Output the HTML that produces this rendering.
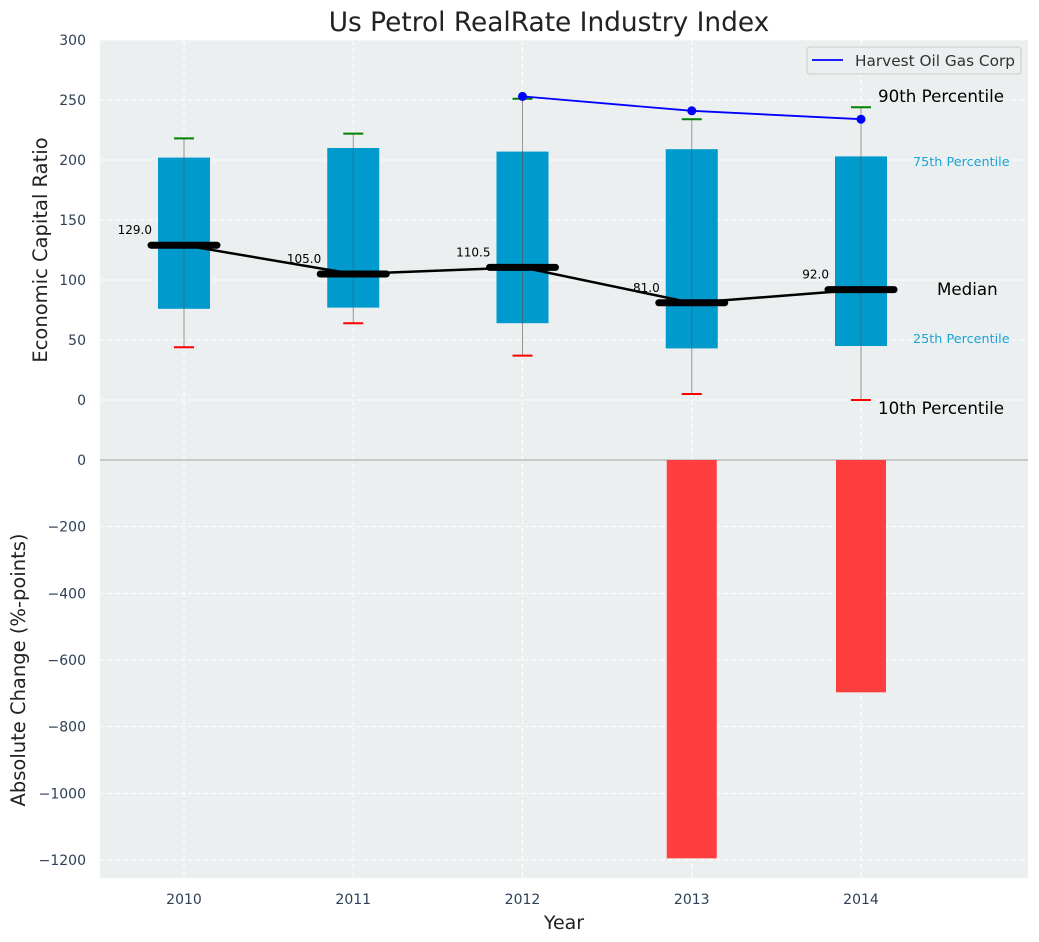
<!DOCTYPE html>
<html><head><meta charset="utf-8">
<style>
body{margin:0;background:#fff;}
svg{display:block;font-family:"DejaVu Sans","Liberation Sans",sans-serif;}
</style></head>
<body>
<svg id="chart" width="1039" height="942" xmlns="http://www.w3.org/2000/svg"></svg>
<script>
const years = [2010, 2011, 2012, 2013, 2014];
const p10 = [44, 64, 37, 5, 0];
const p25 = [76, 77, 64, 43, 45];
const medians = [129.0, 105.0, 110.5, 81.0, 92.0];
const p75 = [202, 210, 207, 209, 203];
const p90 = [218, 222, 251, 234, 244];
const companyYears = [2012, 2013, 2014];
const companyValues = [253, 241, 234];
const changeYears = [2013, 2014];
const changeValues = [-1195, -697];
const topTicks = [300, 250, 200, 150, 100, 50, 0];
const bottomTicks = [0, -200, -400, -600, -800, -1000, -1200];

const svg = document.getElementById('chart');
const NS = 'http://www.w3.org/2000/svg';
function mk(tag, attrs, parent) {
  const e = document.createElementNS(NS, tag);
  for (const k in attrs) e.setAttribute(k, attrs[k]);
  (parent || svg).appendChild(e);
  return e;
}
const L = 100, R = 1028, T1 = 40, B1 = 460, T2 = 460, B2 = 878;
const x = v => 184 + (v - 2010) * 169.25;
const y1 = v => 400 - v * 1.2;
const y2 = v => 460 + (-v) * (400 / 1200);

let e = mk('rect', {x: L, y: T1, width: R - L, height: B1 - T1, fill: '#ebeff0'});


e = mk('rect', {x: L, y: T2, width: R - L, height: B2 - T2, fill: '#ebeff0'});



topTicks.forEach(t => {
  const g = mk('line', {x1: L, x2: R, y1: y1(t), y2: y1(t), stroke: '#fff', 'stroke-dasharray': '5,3', 'stroke-width': 1});
  
  
  const tx = mk('text', {x: 86, y: y1(t) + 5, 'text-anchor': 'end', 'font-size': 14, fill: '#2e4057'});
  tx.textContent = t;
  
  
});
bottomTicks.forEach(t => {
  const g = mk('line', {x1: L, x2: R, y1: y2(t), y2: y2(t), stroke: '#fff', 'stroke-dasharray': '5,3', 'stroke-width': 1});
  
  
  const tx = mk('text', {x: 86, y: y2(t) + 5, 'text-anchor': 'end', 'font-size': 14, fill: '#2e4057'});
  tx.textContent = String(t).replace('-', '\u2212');
  
  
});
years.forEach(yr => {
  const g = mk('line', {x1: x(yr), x2: x(yr), y1: T1, y2: B2, stroke: '#fff', 'stroke-dasharray': '5,3', 'stroke-width': 1});
  
  
  const tx = mk('text', {x: x(yr), y: 904, 'text-anchor': 'middle', 'font-size': 14, fill: '#2e4057'});
  tx.textContent = yr;
  
  
});
e = mk('line', {x1: L, x2: R, y1: 460, y2: 460, stroke: '#bbb', 'stroke-width': 1.5});



years.forEach((yr, i) => {
  const b = mk('rect', {x: x(yr) - 26, y: y1(p75[i]), width: 52, height: y1(p25[i]) - y1(p75[i]), fill: '#009acd'});
  
  
  const w = mk('line', {x1: x(yr), x2: x(yr), y1: y1(p10[i]), y2: y1(p90[i]), stroke: '#555', 'stroke-opacity': 0.6, 'stroke-width': 1});
  
  
  const c1 = mk('line', {x1: x(yr) - 10, x2: x(yr) + 10, y1: y1(p90[i]), y2: y1(p90[i]), stroke: 'green', 'stroke-width': 2});
  
  
  const c2 = mk('line', {x1: x(yr) - 10, x2: x(yr) + 10, y1: y1(p10[i]), y2: y1(p10[i]), stroke: 'red', 'stroke-width': 2});
  
  
});

let pts = years.map((yr, i) => x(yr) + ',' + y1(medians[i])).join(' ');
e = mk('polyline', {points: pts, fill: 'none', stroke: '#000', 'stroke-width': 2.5});


years.forEach((yr, i) => {
  const m = mk('line', {x1: x(yr) - 33, x2: x(yr) + 33, y1: y1(medians[i]), y2: y1(medians[i]), stroke: '#000', 'stroke-width': 7, 'stroke-linecap': 'round'});
  
  
  const t = mk('text', {x: x(yr) - 32, y: y1(medians[i]) - 11, 'text-anchor': 'end', 'font-size': 12, fill: '#000'});
  t.textContent = medians[i].toFixed(1);
  
  
});

pts = companyYears.map((yr, i) => x(yr) + ',' + y1(companyValues[i])).join(' ');
e = mk('polyline', {points: pts, fill: 'none', stroke: '#0000ff', 'stroke-width': 1.8});


companyYears.forEach((yr, i) => {
  const c = mk('circle', {cx: x(yr), cy: y1(companyValues[i]), r: 4.5, fill: '#0000ff'});
  
  
});

changeYears.forEach((yr, i) => {
  const b = mk('rect', {x: x(yr) - 25, y: y2(0), width: 50, height: y2(changeValues[i]) - y2(0), fill: '#ff3f3f'});
  
  
});

function label(txt, xx, yy, size, color, name) {
  const t = mk('text', {x: xx, y: yy, 'font-size': size, fill: color});
  t.textContent = txt;
  
  
}
label('90th Percentile', 878, 102, 16.7, '#000', 'p90-annotation');
label('75th Percentile', 913, 166, 12.8, '#1aa3d6', 'p75-annotation');
label('Median', 937, 295, 16.7, '#000', 'median-annotation');
label('25th Percentile', 913, 343, 12.8, '#1aa3d6', 'p25-annotation');
label('10th Percentile', 878, 414, 16.7, '#000', 'p10-annotation');

const lg = mk('g', {});


mk('rect', {x: 807, y: 47, width: 214, height: 27, rx: 3, fill: '#ebeff0', stroke: '#ccc'}, lg);
mk('line', {x1: 812, x2: 843, y1: 60, y2: 60, stroke: '#0000ff', 'stroke-width': 1.8}, lg);
const lt = mk('text', {x: 855, y: 66, 'font-size': 15.3, fill: '#333'}, lg);
lt.textContent = 'Harvest Oil Gas Corp';

label('Us Petrol RealRate Industry Index', 549, 31, 26.4, '#222', 'chart-title');
svg.lastChild.setAttribute('text-anchor', 'middle');
label('Year', 564, 929, 19, '#222', 'x-axis-title');
svg.lastChild.setAttribute('text-anchor', 'middle');
let yt = mk('text', {x: 0, y: 0, 'font-size': 19.5, fill: '#222', 'text-anchor': 'middle', transform: 'translate(47,250) rotate(-90)'});
yt.textContent = 'Economic Capital Ratio';


yt = mk('text', {x: 0, y: 0, 'font-size': 19.5, fill: '#222', 'text-anchor': 'middle', transform: 'translate(25,670) rotate(-90)'});
yt.textContent = 'Absolute Change (%-points)';


</script>
</body></html>
